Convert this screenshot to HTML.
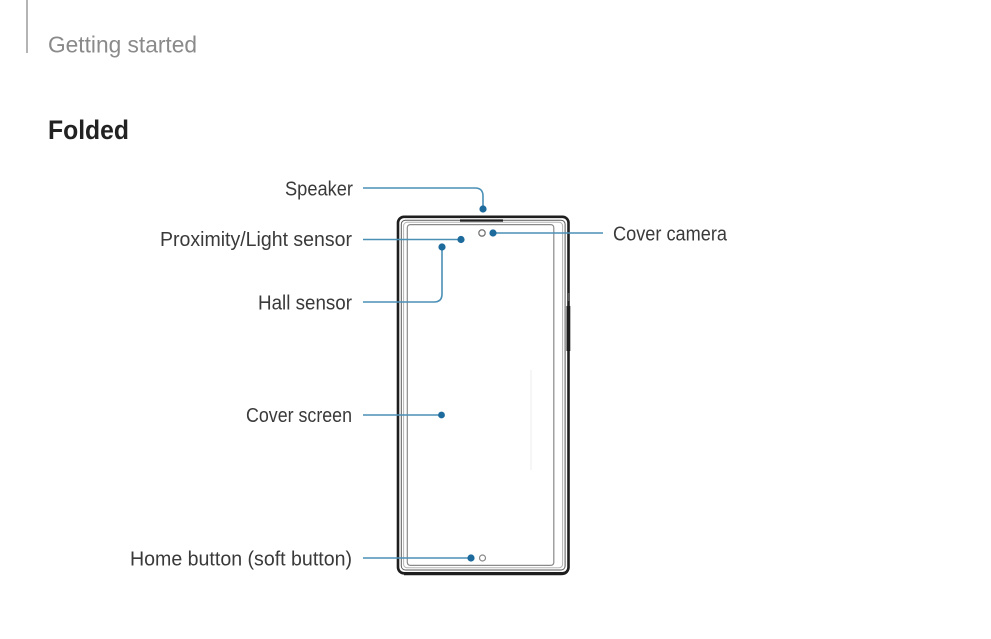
<!DOCTYPE html>
<html>
<head>
<meta charset="utf-8">
<style>
  html, body { margin:0; padding:0; background:#fff; }
  body { width:991px; height:639px; overflow:hidden; }
  svg { display:block; }
  text { font-family: "Liberation Sans", "DejaVu Sans", sans-serif; }
</style>
</head>
<body>
<svg width="991" height="639" viewBox="0 0 991 639" xmlns="http://www.w3.org/2000/svg">
  <rect width="991" height="639" fill="#fff"/>

  <!-- header -->
  <line x1="27" y1="0" x2="27" y2="53" stroke="#9a9a9a" stroke-width="1.5"/>
  <text x="48" y="52.5" font-size="23" fill="#8a8a8a" textLength="149" lengthAdjust="spacingAndGlyphs">Getting started</text>
  <text x="48" y="139" font-size="27" font-weight="bold" fill="#222" textLength="81" lengthAdjust="spacingAndGlyphs">Folded</text>

  <!-- phone -->
  <rect x="398" y="216.8" width="170.5" height="356.5" rx="6" fill="#fff" stroke="#1e1e1e" stroke-width="2.6"/>
  <path d="M568.6 226 L568.6 567 Q568.6 574.5 561 574.5 L404 574.5" fill="none" stroke="#1e1e1e" stroke-width="1.6"/>
  <rect x="401.3" y="220.2" width="163.8" height="349.8" rx="4" fill="none" stroke="#5a5a5a" stroke-width="1"/>
  <rect x="403.6" y="222.3" width="159" height="345.5" rx="3.5" fill="none" stroke="#b5b5b5" stroke-width="1"/>
  <rect x="407.3" y="224.6" width="146.5" height="340.8" rx="3" fill="none" stroke="#8a8a8a" stroke-width="1.2"/>
  <!-- speaker -->
  <line x1="460" y1="220.5" x2="503" y2="220.5" stroke="#222" stroke-width="2.2"/>
  <!-- side buttons -->
  <rect x="566.5" y="306" width="3.8" height="45" fill="#1e1e1e"/>
  <rect x="567" y="293" width="2.8" height="8" fill="#555"/>
  <!-- faint screen line -->
  <line x1="531" y1="370" x2="531" y2="470" stroke="#eeeeee" stroke-width="1"/>
  <!-- camera & home circles -->
  <circle cx="482" cy="233" r="3.2" fill="#fff" stroke="#777" stroke-width="1.3"/>
  <circle cx="482.5" cy="558" r="3" fill="#fff" stroke="#888" stroke-width="1.2"/>

  <!-- leader lines -->
  <g fill="none" stroke="#4a8fb6" stroke-width="1.6">
    <path d="M363 188 L475 188 Q483 188 483 196 L483 208"/>
    <line x1="363" y1="239.5" x2="461" y2="239.5"/>
    <path d="M363 302 L434 302 Q442 302 442 294 L442 247"/>
    <line x1="363" y1="415" x2="441.5" y2="415"/>
    <line x1="363" y1="558" x2="471" y2="558"/>
    <line x1="493" y1="233" x2="603" y2="233"/>
  </g>
  <g fill="#1d6a9c">
    <circle cx="483" cy="209" r="3.6"/>
    <circle cx="461" cy="239.5" r="3.6"/>
    <circle cx="442" cy="247" r="3.6"/>
    <circle cx="441.5" cy="415" r="3.4"/>
    <circle cx="471" cy="558" r="3.6"/>
    <circle cx="493" cy="233" r="3.6"/>
  </g>

  <!-- labels -->
  <g font-size="20" fill="#3a3a3a">
    <text x="285" y="195.5" textLength="68" lengthAdjust="spacingAndGlyphs">Speaker</text>
    <text x="160" y="246" textLength="192" lengthAdjust="spacingAndGlyphs">Proximity/Light sensor</text>
    <text x="258" y="309.5" textLength="94" lengthAdjust="spacingAndGlyphs">Hall sensor</text>
    <text x="246" y="422" textLength="106" lengthAdjust="spacingAndGlyphs">Cover screen</text>
    <text x="130" y="565.5" textLength="222" lengthAdjust="spacingAndGlyphs">Home button (soft button)</text>
    <text x="613" y="240.5" textLength="114" lengthAdjust="spacingAndGlyphs">Cover camera</text>
  </g>
</svg>
</body>
</html>
